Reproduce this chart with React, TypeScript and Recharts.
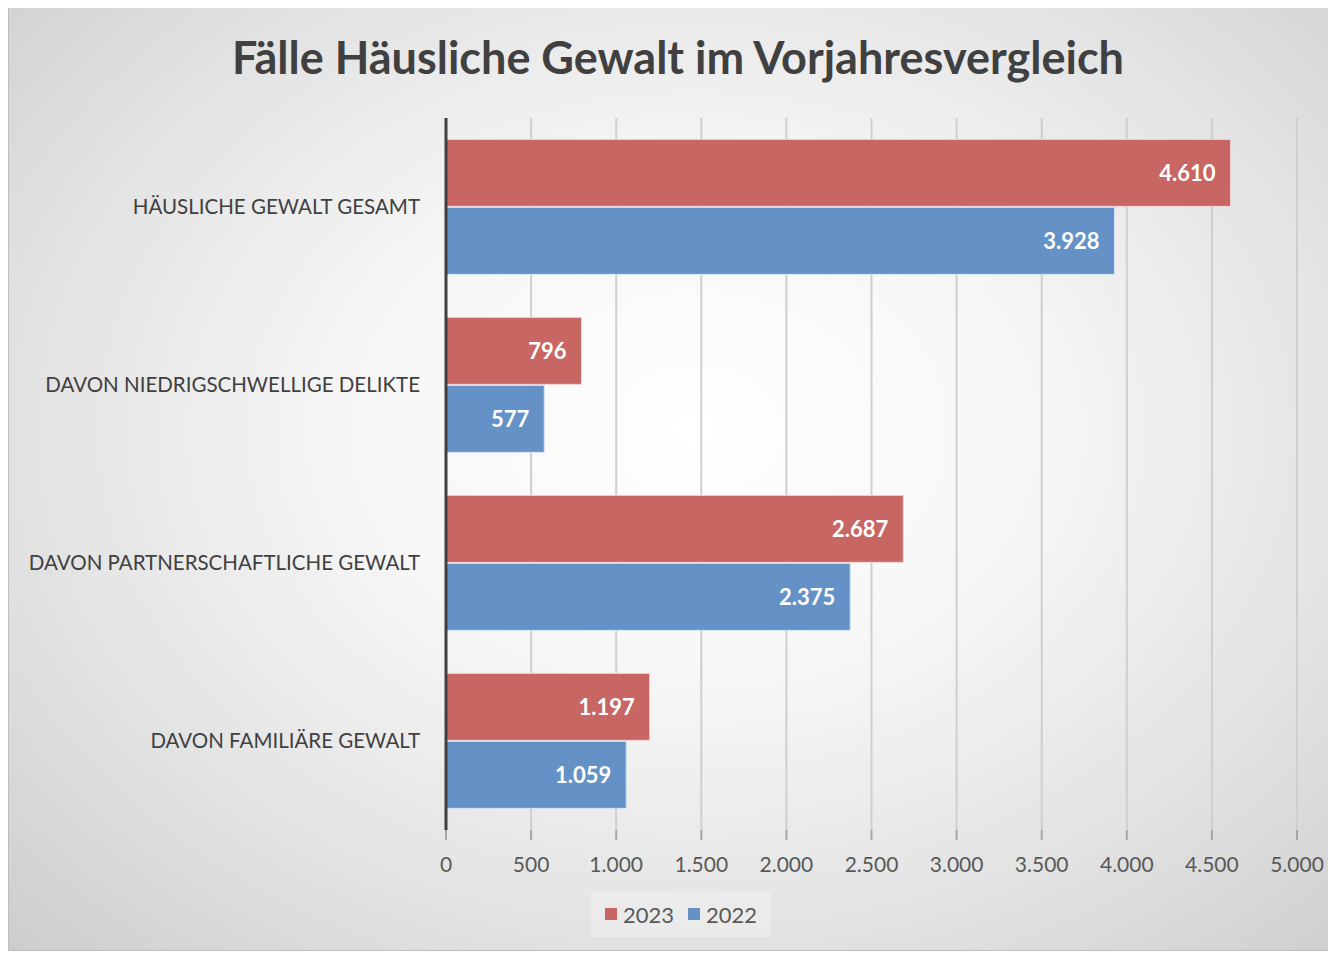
import { Bar, BarChart, CartesianGrid, LabelList, XAxis, YAxis } from "recharts"

const CATEGORIES = [
  "HÄUSLICHE GEWALT GESAMT",
  "DAVON NIEDRIGSCHWELLIGE DELIKTE",
  "DAVON PARTNERSCHAFTLICHE GEWALT",
  "DAVON FAMILIÄRE GEWALT",
]
const VALUES_2023 = [4610, 796, 2687, 1197]
const VALUES_2022 = [3928, 577, 2375, 1059]
const X_TICKS = [0, 500, 1000, 1500, 2000, 2500, 3000, 3500, 4000, 4500, 5000]
const SERIES = [
  { key: "y2023", label: "2023", color: "#C86663", stroke: "#f2d7d6" },
  { key: "y2022", label: "2022", color: "#6592C6", stroke: "#d6e3f2" },
]

const TEXT = "#404040"
const FONT = "Lato, 'Noto Sans', sans-serif"

const data = CATEGORIES.map((name, index) => ({
  name,
  y2023: VALUES_2023[index],
  y2022: VALUES_2022[index],
}))

// German thousands separator
const formatDe = (value: number) => String(value).replace(/\B(?=(\d{3})+(?!\d))/g, ".")

const LegendBox = () => (
  <div
    style={{
      position: "absolute",
      left: 582,
      top: 885,
      display: "flex",
      alignItems: "center",
      justifyContent: "center",
      gap: 14,
      width: 180,
      height: 46,
      background: "rgba(240,240,240,0.55)",
      fontFamily: FONT,
      fontSize: 22,
      color: "#595959",
    }}
  >
    {SERIES.map((item) => (
      <span key={item.label} style={{ display: "flex", alignItems: "center", gap: 6 }}>
        <span style={{ width: 12, height: 12, background: item.color, display: "inline-block" }} />
        {item.label}
      </span>
    ))}
  </div>
)

export default function App() {
  return (
    <div
      style={{
        position: "relative",
        width: 1322,
        height: 946,
        marginTop: -3,
        boxSizing: "border-box",
        border: "1px solid #bdbdbd",
        background: "radial-gradient(ellipse at 52% 45%, #ffffff 0%, #f6f6f6 35%, #e2e2e2 70%, #cdcdcd 100%)",
      }}
    >
      <div
        style={{
          position: "absolute",
          top: 24,
          left: 0,
          width: "100%",
          textAlign: "center",
          fontFamily: FONT,
          fontWeight: 700,
          fontSize: 45,
          color: TEXT,
          paddingLeft: 18,
          boxSizing: "border-box",
        }}
      >
        Fälle Häusliche Gewalt im Vorjahresvergleich
      </div>
      <BarChart
        width={1320}
        height={944}
        data={data}
        layout="vertical"
        margin={{ top: 112, right: 32, left: 0, bottom: 70 }}
        barCategoryGap="12%"
        barGap={1}
        style={{ position: "absolute", top: 0, left: 0 }}
      >
        <CartesianGrid horizontal={false} stroke="#cfcfcf" strokeWidth={2} />
        <XAxis
          type="number"
          domain={[0, 5000]}
          ticks={X_TICKS}
          tickFormatter={formatDe}
          axisLine={false}
          tickLine={{ stroke: "#a6a6a6", strokeWidth: 2 }}
          tickSize={10}
          tickMargin={17}
          height={50}
          tick={{ fill: "#595959", fontSize: 21, fontFamily: FONT }}
        />
        <YAxis
          type="category"
          dataKey="name"
          width={437}
          axisLine={{ stroke: TEXT, strokeWidth: 3 }}
          tickLine={false}
          tickSize={0}
          tickMargin={26}
          tick={{ fill: TEXT, fontSize: 20.5, fontFamily: FONT }}
        />
        {SERIES.map((s) => (
          <Bar
            key={s.key}
            dataKey={s.key}
            name={s.label}
            fill={s.color}
            stroke={s.stroke}
            strokeWidth={1}
            isAnimationActive={false}
          >
            <LabelList
              dataKey={s.key}
              position="insideRight"
              offset={15}
              formatter={(v: number) => formatDe(Number(v))}
              style={{ fill: "#ffffff", fontSize: 22, fontWeight: 700, fontFamily: FONT }}
            />
          </Bar>
        ))}
      </BarChart>
      <LegendBox />
    </div>
  )
}
